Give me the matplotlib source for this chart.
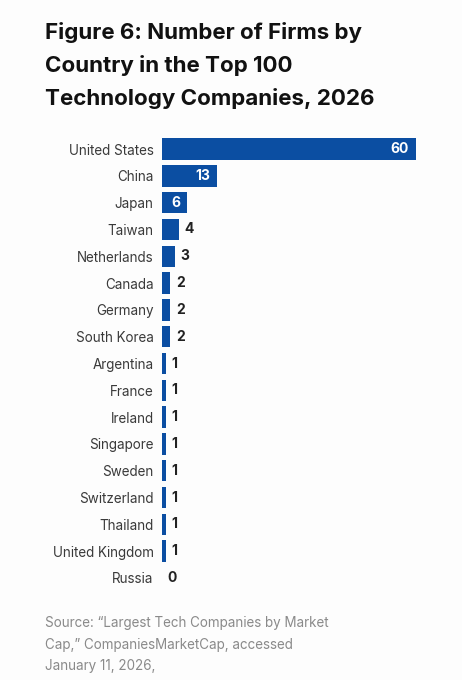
import matplotlib.pyplot as plt

countries = ["United States", "China", "Japan", "Taiwan", "Netherlands", "Canada",
             "Germany", "South Korea", "Argentina", "France", "Ireland", "Singapore",
             "Sweden", "Switzerland", "Thailand", "United Kingdom", "Russia"]
firms = [60, 13, 6, 4, 3, 2, 2, 2, 1, 1, 1, 1, 1, 1, 1, 1, 0]

title = "Figure 6: Number of Firms by\nCountry in the Top 100\nTechnology Companies, 2026"
source = ("Source: \u201cLargest Tech Companies by Market\n"
          "Cap,\u201d CompaniesMarketCap, accessed\n"
          "January 11, 2026,")

bar_color = "#0b4ea2"
bg = "#fdfdfd"

plt.rcParams['font.family'] = ['Inter', 'DejaVu Sans']

fig = plt.figure(figsize=(4.62, 6.80), dpi=100, facecolor=bg)
ax = fig.add_axes([162/462, 1 - 591.4/680, (416-162)/462, (591.4-135.6)/680])
ax.set_facecolor(bg)

ypos = list(range(len(countries)))
ax.barh(ypos, firms, height=0.8, color=bar_color)
ax.set_xlim(0, 60)
ax.set_ylim(len(countries) - 0.5, -0.5)

ax.set_yticks(ypos)
ax.set_yticklabels(countries, fontsize=9.7, color="#3a3a3a")
ax.tick_params(axis='y', length=0, pad=6)
ax.set_xticks([])
for s in ax.spines.values():
    s.set_visible(False)

for y, v in zip(ypos, firms):
    if v >= 5:
        ax.annotate(str(v), (v, y), xytext=(-5, 0), textcoords='offset points',
                    ha='right', va='center', color='white', fontsize=10, fontweight='bold')
    else:
        ax.annotate(str(v), (v, y), xytext=(4, 0), textcoords='offset points',
                    ha='left', va='center', color='#222222', fontsize=10, fontweight='bold')

fig.text(45/462, 1 - 22/680, title, ha='left', va='top', fontsize=16.1,
         fontweight='bold', color='#111111', linespacing=1.72)
fig.text(45/462, 1 - 616/680, source, ha='left', va='top', fontsize=9.7,
         color='#8a8a8a', linespacing=1.7)

fig.savefig("out.png", dpi=100, facecolor=bg)
